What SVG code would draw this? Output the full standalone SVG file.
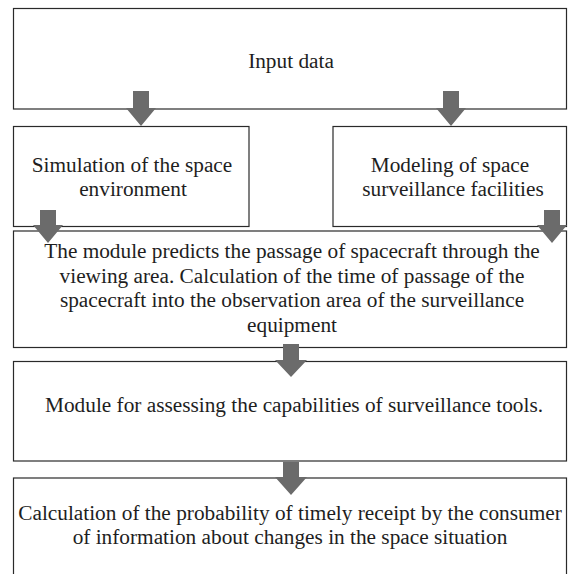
<svg xmlns="http://www.w3.org/2000/svg" width="569" height="574" viewBox="0 0 569 574">
<defs>
<style>
.box{fill:#fff;stroke:#2a2a2a;stroke-width:1.2}
.t{font-family:"Liberation Serif","Times New Roman",serif;font-size:21.3px;fill:#1e1e1e;text-anchor:middle}
.arr{fill:#6b6b6b}
</style>
</defs>
<rect width="569" height="574" fill="#fff"/>
<g id="input">
<rect class="box" x="13.5" y="8.5" width="553" height="100.5"/>
<text class="t" x="291" y="68">Input data</text>
</g>
<g id="simulation">
<rect class="box" x="13.5" y="126.5" width="235.5" height="100"/>
<text class="t" x="132" y="172">Simulation of the space</text>
<text class="t" x="133" y="196">environment</text>
</g>
<g id="modeling">
<rect class="box" x="333" y="126.5" width="233.5" height="100"/>
<text class="t" x="450" y="172">Modeling of space</text>
<text class="t" x="453" y="196">surveillance facilities</text>
</g>
<g id="prediction">
<rect class="box" x="13.5" y="231" width="553" height="116.5"/>
<text class="t" x="292" y="258">The module predicts the passage of spacecraft through the</text>
<text class="t" x="292" y="282.5">viewing area. Calculation of the time of passage of the</text>
<text class="t" x="292" y="307">spacecraft into the observation area of the surveillance</text>
<text class="t" x="292" y="331.5">equipment</text>
</g>
<g id="assessing">
<rect class="box" x="13.5" y="361.5" width="553" height="99.5"/>
<text class="t" x="294" y="412">Module for assessing the capabilities of surveillance tools.</text>
</g>
<g id="probability">
<rect class="box" x="13.5" y="478" width="553" height="110"/>
<text class="t" x="290" y="520">Calculation of the probability of timely receipt by the consumer</text>
<text class="t" x="290" y="544">of information about changes in the space situation</text>
</g>
<g id="connectors">
<path class="arr" d="M133,91 H149 V108 H156 L141,126 L126,108 H133 Z"/>
<path class="arr" d="M443,91 H459 V108 H466 L451,126 L436,108 H443 Z"/>
<path class="arr" d="M40,210 H56 V225 H63 L48,243 L33,225 H40 Z"/>
<path class="arr" d="M544,210 H560 V225 H567 L552,243 L537,225 H544 Z"/>
<path class="arr" d="M283,344 H299 V360 H307 L291,377 L275,360 H283 Z"/>
<path class="arr" d="M283,462 H299 V477 H307 L291,495 L275,477 H283 Z"/>
</g>
</svg>
